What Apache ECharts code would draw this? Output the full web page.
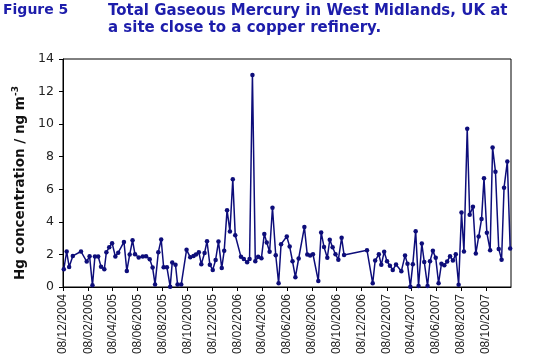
<!DOCTYPE html>
<html>
<head>
<meta charset="utf-8">
<script src="https://cdn.jsdelivr.net/npm/echarts@6/dist/echarts.min.js"></script>
<style>
html,body{margin:0;padding:0;background:#fff;}
#chart{width:536px;height:358px;}
</style>
</head>
<body>
<div id="chart"></div>
<script>
// Sampling days, counted from the axis start date 08/12/2004
const startDate = '2004-12-08';
const endDate = '2007-12-08';
const sampleDays = [
  2,9,15,24,44,58,65,72,78,86,
  93,101,106,113,120,128,135,149,156,163,
  170,176,185,195,203,212,219,225,233,240,
  246,254,262,267,275,280,289,302,311,319,
  325,332,338,346,352,359,366,373,380,388,
  394,401,408,415,421,435,442,450,456,463,
  470,477,485,492,498,505,512,520,527,533,
  547,554,561,568,576,590,597,604,611,624,
  631,638,646,652,659,666,673,681,687,743,
  757,763,772,778,785,792,799,806,814,827,
  836,842,849,855,862,869,877,883,891,897,
  904,911,918,925,932,939,946,953,960,967,
  974,980,988,994,1002,1009,1016,1023,1029,1036,
  1044,1050,1057,1065,1072,1078,1086,1093
];
// Total gaseous mercury, ng m-3
const hgValues = [
  1.09,2.18,1.23,1.91,2.18,1.56,1.89,0.10,1.87,1.87,
  1.25,1.09,2.14,2.44,2.69,1.87,2.11,2.77,0.99,1.99,
  2.87,2.01,1.81,1.87,1.89,1.70,1.19,0.16,2.14,2.92,
  1.21,1.21,0.02,1.50,1.36,0.16,0.16,2.28,1.83,1.91,
  1.99,2.14,1.40,2.09,2.81,1.36,1.05,1.66,2.79,1.17,
  2.22,4.72,3.41,6.61,3.18,1.85,1.72,1.52,1.72,13.02,
  1.58,1.85,1.77,3.26,2.73,2.16,4.87,1.95,0.23,2.63,
  3.10,2.48,1.58,0.60,1.75,3.68,1.99,1.93,2.01,0.37,
  3.35,2.46,1.79,2.90,2.44,2.01,1.68,3.02,1.97,2.26,
  0.23,1.62,2.01,1.36,2.16,1.58,1.31,1.05,1.38,0.97,
  1.93,1.42,0.02,1.40,3.43,0.06,2.67,1.54,0.06,1.58,
  2.22,1.79,0.23,1.42,1.33,1.56,1.89,1.62,2.01,0.14,
  4.58,2.18,9.71,4.44,4.93,2.05,3.10,4.17,6.67,3.33,
  2.26,8.56,7.08,2.34,1.68,6.10,7.70,2.36
];
const xTickLabels = [
  '08/12/2004','08/02/2005','08/04/2005','08/06/2005','08/08/2005','08/10/2005',
  '08/12/2005','08/02/2006','08/04/2006','08/06/2006','08/08/2006','08/10/2006',
  '08/12/2006','08/02/2007','08/04/2007','08/06/2007','08/08/2007','08/10/2007'
];
const yTicks = [0,2,4,6,8,10,12,14];

const DAY = 86400000;
function parseISO(s){ const p = s.split('-').map(Number); return Date.UTC(p[0], p[1]-1, p[2]); }
function parseDMY(s){ const p = s.split('/').map(Number); return Date.UTC(p[2], p[1]-1, p[0]); }
function pad(n){ return (n < 10 ? '0' : '') + n; }
function fmt(t){ const d = new Date(t); return pad(d.getUTCDate()) + '/' + pad(d.getUTCMonth()+1) + '/' + d.getUTCFullYear(); }

const t0 = parseISO(startDate);
const t1 = parseISO(endDate);
const seriesData = sampleDays.map((d, i) => [t0 + d * DAY, hgValues[i]]);
const tickTimes = xTickLabels.map(parseDMY);

const WIDE = 'DejaVu Sans, Verdana, sans-serif';
const ARIAL = 'Liberation Sans, Arial, sans-serif';

const chart = echarts.init(document.getElementById('chart'), null, {renderer: 'canvas'});
chart.setOption({
  animation: false,
  backgroundColor: '#ffffff',
  title: [
    {text: 'Figure 5', left: -2, top: -2,
     textStyle: {fontFamily: WIDE, fontWeight: 'bold', fontSize: 14, color: '#1d1dab'}},
    {text: 'Total Gaseous Mercury in West Midlands, UK at\na site close to a copper refinery.', left: 103, top: -2,
     textStyle: {fontFamily: WIDE, fontWeight: 'bold', fontSize: 15, lineHeight: 17, color: '#1d1dab'}}
  ],
  grid: {left: 63, right: 25, top: 59, bottom: 71, show: true, borderColor: '#000', borderWidth: 1, backgroundColor: 'transparent'},
  xAxis: {
    type: 'value',
    min: t0,
    max: t1,
    scale: true,
    splitLine: {show: false},
    axisLine: {lineStyle: {color: '#000', width: 1}},
    axisTick: {show: true, length: 4, lineStyle: {color: '#000'}, customValues: tickTimes},
    axisLabel: {
      customValues: tickTimes,
      rotate: 90, margin: 7,
      padding: [7, 0, 0, 0],
      fontFamily: ARIAL, fontSize: 12, color: '#222',
      formatter: function(v){ return fmt(v); }
    }
  },
  yAxis: {
    type: 'value',
    min: yTicks[0], max: yTicks[yTicks.length-1], interval: 2,
    splitLine: {show: false},
    axisLine: {show: true, lineStyle: {color: '#000', width: 1}},
    axisTick: {show: true, length: 4, lineStyle: {color: '#000'}},
    axisLabel: {margin: 9, fontFamily: WIDE, fontSize: 12.5, color: '#222'},
    name: '{n|Hg concentration / ng m}{s|-3}',
    nameLocation: 'middle',
    nameGap: 33,
    nameTextStyle: {
      padding: [0, 20, 0, 0],
      rich: {
        n: {fontFamily: WIDE, fontWeight: 'bold', fontSize: 13.5, color: '#111', lineHeight: 18},
        s: {fontFamily: WIDE, fontWeight: 'bold', fontSize: 9, color: '#111', padding: [0, 0, 9, 0]}
      }
    }
  },
  series: [{
    type: 'line',
    data: seriesData,
    symbol: 'circle',
    symbolSize: 4.5,
    lineStyle: {color: '#0d0d7a', width: 1.5},
    itemStyle: {color: '#0d0d7a'},
    clip: false
  }]
});
</script>
</body>
</html>
